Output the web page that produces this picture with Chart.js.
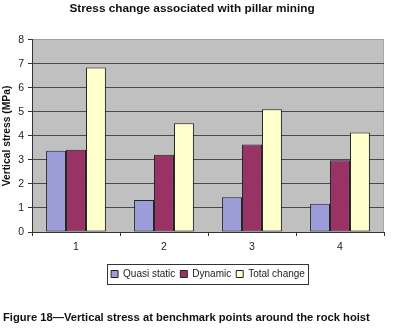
<!DOCTYPE html>
<html><head><meta charset="utf-8">
<script src="https://cdn.jsdelivr.net/npm/chart.js@4"></script>
<style>
html,body{margin:0;padding:0;background:#fff;}
#wrap{position:relative;width:411px;height:331px;}
#cap{position:absolute;left:3px;top:311px;font:bold 11.2px "Liberation Sans",Arial,sans-serif;color:#111;white-space:nowrap;}
</style></head>
<body><div id="wrap"><canvas id="c" width="411" height="331"></canvas>
<div id="cap">Figure 18—Vertical stress at benchmark points around the rock hoist</div></div>
<script>
const categories = ['1','2','3','4'];
const quasiStatic = [3.38, 1.33, 1.45, 1.18];
const dynamic = [3.43, 3.22, 3.64, 2.99];
const totalChange = [6.85, 4.53, 5.11, 4.15];
const seriesNames = ['Quasi static','Dynamic','Total change'];
const titleText = 'Stress change associated with pillar mining';
const yTitle = 'Vertical stress (MPa)';

const FONT = '"Liberation Sans", Arial, sans-serif';

const bgPlugin = {
  id:'bg',
  beforeDraw(chart){
    const {ctx, chartArea:a} = chart;
    ctx.save(); ctx.fillStyle='#c0c0c0';
    ctx.fillRect(a.left,a.top,a.right-a.left,a.bottom-a.top);
    ctx.strokeStyle='#a8a8a8'; ctx.lineWidth=1;
    ctx.beginPath(); ctx.moveTo(a.right-0.5,a.top); ctx.lineTo(a.right-0.5,a.bottom); ctx.stroke();
    ctx.restore();
  }
};
const legendBox = {
  id:'legendBox',
  afterDraw(chart){
    const hb = chart.legend.legendHitBoxes;
    if(!hb || !hb.length) return;
    let l=Infinity,r=-Infinity,c=hb[0].top+hb[0].height/2;
    hb.forEach(h=>{l=Math.min(l,h.left);r=Math.max(r,h.left+h.width);});
    const ctx=chart.ctx; ctx.save();
    ctx.strokeStyle='#333'; ctx.lineWidth=1;
    ctx.strokeRect(Math.round(l-4)+0.5, Math.round(c-10)+0.5, Math.round(r-l+7), 20);
    ctx.restore();
  }
};

new Chart(document.getElementById('c'), {
  type:'bar',
  data:{
    labels:categories,
    datasets:[
      {label:seriesNames[0], data:quasiStatic, backgroundColor:'#9c9cd8', borderColor:'#222', borderWidth:1},
      {label:seriesNames[1], data:dynamic, backgroundColor:'#993366', borderColor:'#222', borderWidth:1},
      {label:seriesNames[2], data:totalChange, backgroundColor:'#ffffcc', borderColor:'#222', borderWidth:1}
    ]
  },
  options:{
    responsive:false, animation:false, devicePixelRatio:1,
    layout:{padding:{left:0,right:27,top:0,bottom:42}},
    datasets:{bar:{categoryPercentage:0.68, barPercentage:1.0, borderSkipped:false}},
    plugins:{
      tooltip:{enabled:false},
      title:{display:true, text:titleText, color:'#111', font:{family:FONT,size:11.8,weight:'bold'}, padding:{top:2,bottom:23.8}},
      legend:{position:'bottom', fullSize:false,
        labels:{color:'#222', font:{family:FONT,size:10}, boxWidth:7, boxHeight:7, padding:5}}
    },
    scales:{
      x:{
        grid:{drawOnChartArea:false, offset:true, tickLength:4, color:'#333'},
        border:{color:'#333'},
        ticks:{color:'#222', font:{family:FONT,size:10.5}, padding:5},
        afterFit(s){ s.height = 32; }
      },
      y:{
        min:0, max:8,
        ticks:{stepSize:1, color:'#222', font:{family:FONT,size:10.5}, padding:4},
        grid:{color:(c)=> c.tick && c.tick.value===8 ? '#a0a0a0' : '#4a4a4a', tickLength:4, tickColor:'#333'},
        border:{color:'#333'},
        title:{display:true, text:yTitle, color:'#111', font:{family:FONT,size:10.3,weight:'bold'}, padding:{top:1,bottom:0}},
        afterFit(s){ s.width = 32; }
      }
    }
  },
  plugins:[bgPlugin, legendBox]
});
</script></body></html>
